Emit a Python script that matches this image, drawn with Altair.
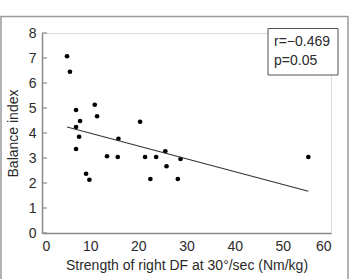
import altair as alt
import pandas as pd

strength = [5.2, 5.8, 7.07, 7.07, 7.9, 7.7, 7.07, 9.15, 9.84, 10.95, 11.43, 13.5,
            15.87, 15.73, 20.37, 21.4, 22.5, 23.7, 25.6, 25.85, 28.2, 28.76, 55.3]
balance = [7.07, 6.45, 4.92, 4.24, 4.48, 3.85, 3.36, 2.37, 2.13, 5.13, 4.67, 3.07,
           3.77, 3.04, 4.45, 3.04, 2.16, 3.04, 3.27, 2.67, 2.16, 2.96, 3.04]
fit_x = [5.2, 55.3]
fit_y = [4.24, 1.67]
y_ticks = [0, 1, 2, 3, 4, 5, 6, 7, 8]
x_ticks = [0, 10, 20, 30, 40, 50, 60]
stats_text = "r=\u22120.469\np=0.05"

FONT = "Liberation Sans"
TXT = "#2a2a2a"
AX = "#8a8a8a"

pts = pd.DataFrame({"x": strength, "y": balance})
fit = pd.DataFrame({"x": fit_x, "y": fit_y})
ticks = pd.DataFrame({"y": y_ticks})

xs = alt.Scale(domain=[0, 60], nice=False)
ys = alt.Scale(domain=[0, 8], nice=False)

xaxis = alt.Axis(values=x_ticks, ticks=False, tickSize=0, grid=False, domainColor=AX,
                 domainWidth=1.5, labelFont=FONT, labelFontSize=14, labelColor=TXT,
                 labelPadding=6, labelOverlap=False,
                 title="Strength of right DF at 30\u00b0/sec (Nm/kg)",
                 titleFont=FONT, titleFontSize=14, titleFontWeight="normal",
                 titleColor=TXT, titlePadding=5)
yaxis = alt.Axis(values=y_ticks, tickCount=9, ticks=False, tickSize=0, grid=False,
                 domainColor=AX, domainWidth=1.5, labelFont=FONT, labelFontSize=14,
                 labelColor=TXT, labelPadding=6, labelOverlap=False, labelFlush=False,
                 title="Balance index", titleFont=FONT, titleFontSize=14,
                 titleFontWeight="normal", titleColor=TXT, titlePadding=8)

points = alt.Chart(pts).mark_circle(size=22, color="black", opacity=1).encode(
    x=alt.X("x:Q", scale=xs, axis=xaxis),
    y=alt.Y("y:Q", scale=ys, axis=yaxis))

border = alt.Chart(pd.DataFrame({"a": [0]})).mark_rect(
    fill=None, stroke="#9a9a9a", strokeWidth=1.5).encode(
    x=alt.value(-41), y=alt.value(-16.5), x2=alt.value(306), y2=alt.value(260))

line = alt.Chart(fit).mark_line(color="#333333", strokeWidth=1.1).encode(
    x=alt.X("x:Q", scale=xs, axis=xaxis), y=alt.Y("y:Q", scale=ys, axis=yaxis))

tickmarks = alt.Chart(ticks).mark_rule(color=AX, strokeWidth=1.2).encode(
    y=alt.Y("y:Q", scale=ys, axis=yaxis), x=alt.value(0), x2=alt.value(5))

box = alt.Chart(pd.DataFrame({"a": [0]})).mark_rect(
    fill="white", stroke="#555555", strokeWidth=1).encode(
    x=alt.value(226), y=alt.value(-4.5), x2=alt.value(296), y2=alt.value(42))

stats = alt.Chart(pd.DataFrame({"t": [stats_text]})).mark_text(
    align="left", baseline="top", font=FONT, fontSize=14, color=TXT,
    lineBreak="\n", lineHeight=19).encode(
    text="t:N", x=alt.value(232), y=alt.value(2))

chart = alt.layer(points, border, tickmarks, line, box, stats).properties(
    width=289, height=200,
    autosize=alt.AutoSizeParams(type="none"),
    padding={"left": 42, "top": 33, "right": 21, "bottom": 46},
).configure_view(stroke=None).configure(background="white")

chart.save("out.html", embed_options={"renderer": "svg", "actions": False})
